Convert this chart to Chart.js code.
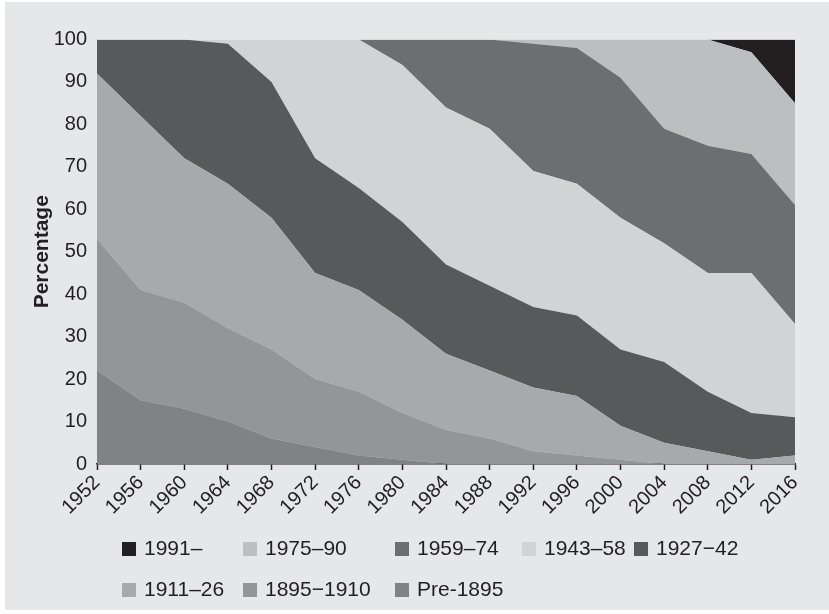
<!DOCTYPE html>
<html>
<head>
<meta charset="utf-8">
<script src="https://cdn.jsdelivr.net/npm/chart.js@4.4.0/dist/chart.umd.min.js"></script>
<style>
  body { margin: 0; background: #ffffff; }
  #frame { position: absolute; left: 5px; top: 2px; width: 824px; height: 608px; background: #e6e7e8; }
  #wrap { position: absolute; left: 0; top: 0; width: 829px; height: 614px; }
  #legend { position: absolute; left: 0; top: 0; width: 829px; height: 614px; pointer-events: none;
            font-family: "Liberation Sans", Arial, sans-serif; font-size: 21px; color: #231f20; }
  .box { position: absolute; width: 14px; height: 14px; }
  .lab { position: absolute; line-height: 22px; white-space: nowrap; }
</style>
</head>
<body>
<div id="frame"></div>
<div id="wrap"><canvas id="graph" width="829" height="614"></canvas></div>
<div id="legend"></div>
<script>
// ---------------- données (en % par tranche de naissance) ----------------
const years = ["1952", "1956", "1960", "1964", "1968", "1972", "1976", "1980", "1984", "1988", "1992", "1996", "2000", "2004", "2008", "2012", "2016"]
const yTicks = [0, 10, 20, 30, 40, 50, 60, 70, 80, 90, 100]

// du bas vers le haut de la pile
const pre1895   = [22, 15, 13, 10, 6, 4, 2, 1, 0, 0, 0, 0, 0, 0, 0, 0, 0]
const c1895     = [31, 26, 25, 22, 21, 16, 15, 11, 8, 6, 3, 2, 1, 0, 0, 0, 0]
const c1911     = [39, 41, 34, 34, 31, 25, 24, 22, 18, 16, 15, 14, 8, 5, 3, 1, 2]
const c1927     = [8, 18, 28, 33, 32, 27, 24, 23, 21, 20, 19, 19, 18, 19, 14, 11, 9]
const c1943     = [0, 0, 0, 1, 10, 28, 35, 37, 37, 37, 32, 31, 31, 28, 28, 33, 22]
const c1959     = [0, 0, 0, 0, 0, 0, 0, 6, 16, 21, 30, 32, 33, 27, 30, 28, 28]
const c1975     = [0, 0, 0, 0, 0, 0, 0, 0, 0, 0, 1, 2, 9, 21, 25, 24, 24]
const c1991     = [0, 0, 0, 0, 0, 0, 0, 0, 0, 0, 0, 0, 0, 0, 0, 3, 15]

const seriesNames = ["Pre-1895", "1895\u22121910", "1911\u201326", "1927\u221242", "1943\u201358", "1959\u201374", "1975\u201390", "1991\u2013"]
const seriesData = [pre1895, c1895, c1911, c1927, c1943, c1959, c1975, c1991]
const seriesColors = ["#808285", "#939598", "#a7a9ac", "#58595b", "#d1d3d4", "#6d6e71", "#bcbec0", "#231f20"]

const FONT = '"Liberation Sans", Arial, sans-serif'
const INK = '#231f20'

document.addEventListener('DOMContentLoaded', function () {
  const datasets = seriesData.map((d, i) => ({
    label: seriesNames[i],
    data: d,
    backgroundColor: seriesColors[i],
    borderWidth: 0,
    pointRadius: 0,
    tension: 0,
    fill: i === 0 ? 'origin' : '-1'
  }))

  const config = {
    type: 'line',
    data: { labels: years, datasets: datasets },
    options: {
      responsive: false,
      animation: false,
      devicePixelRatio: 1,
      layout: { padding: { top: 39.5, right: 34, bottom: 0, left: 0 } },
      plugins: { legend: { display: false }, tooltip: { enabled: false } },
      scales: {
        x: {
          offset: false,
          grid: { drawOnChartArea: false, drawTicks: true, tickLength: 6, tickWidth: 1.5, tickColor: INK },
          border: { display: true, color: INK, width: 1.5 },
          ticks: { color: INK, font: { family: FONT, size: 20 }, minRotation: 45, maxRotation: 45, padding: 1, autoSkip: false },
          afterFit: (s) => { s.height = 150 }
        },
        y: {
          stacked: true,
          min: 0,
          max: 100,
          afterBuildTicks: (s) => { s.ticks = yTicks.map(v => ({ value: v })) },
          grid: { display: false, drawTicks: false },
          border: { display: false },
          ticks: { color: INK, font: { family: FONT, size: 20 }, padding: 10 },
          title: { display: true, text: 'Percentage', color: INK, font: { family: FONT, size: 21, weight: 'bold' }, padding: { top: 30, bottom: 0 } },
          afterFit: (s) => { s.width = 97 }
        }
      }
    }
  }

  const chart = new Chart(document.getElementById('graph'), config)

  // légende en HTML : ordre inverse, colonnes fixes comme sur l'original
  const colX = [122, 243, 395, 522, 634]
  const rowY = [542, 583]
  const legend = document.getElementById('legend')
  const items = chart.data.datasets.slice().reverse()
  items.forEach((ds, i) => {
    const row = i < 5 ? 0 : 1
    const col = i < 5 ? i : i - 5
    const box = document.createElement('div')
    box.className = 'box'
    box.style.left = colX[col] + 'px'
    box.style.top = rowY[row] + 'px'
    box.style.background = ds.backgroundColor
    const lab = document.createElement('div')
    lab.className = 'lab'
    lab.style.left = (colX[col] + 22) + 'px'
    lab.style.top = (rowY[row] - 5) + 'px'
    lab.textContent = ds.label
    legend.appendChild(box)
    legend.appendChild(lab)
  })
})
</script>
</body>
</html>
